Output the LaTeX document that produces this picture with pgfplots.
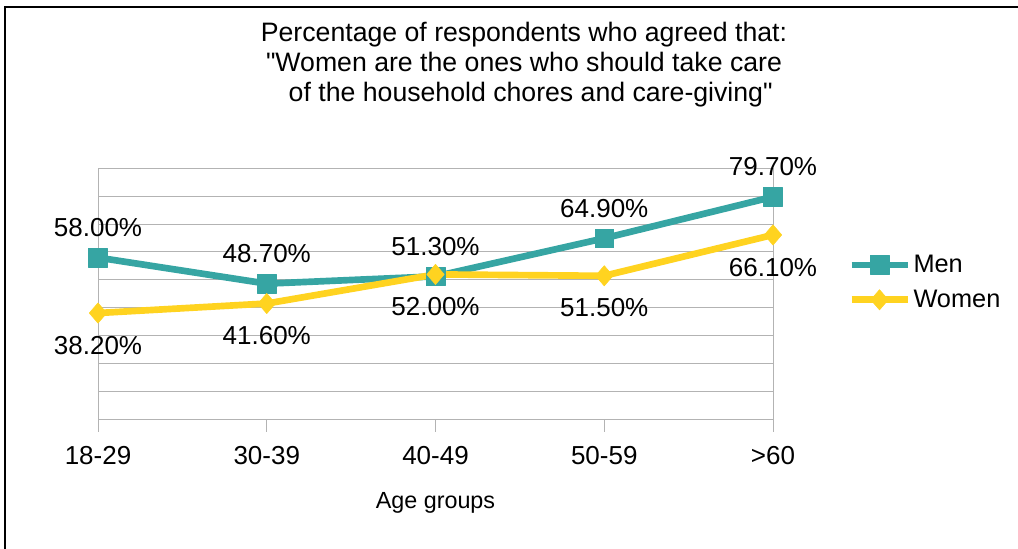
\documentclass[border=0pt]{standalone}
\usepackage{pgfplots}
\pgfplotsset{compat=1.18}
\usepackage{fontspec}
\setmainfont{Liberation Sans}[Ligatures=TeXOff]
\definecolor{menc}{RGB}{54,165,163}
\definecolor{womc}{RGB}{255,211,32}
\definecolor{gridc}{RGB}{179,179,179}
\begin{document}
\begin{tikzpicture}
\useasboundingbox (0,0) rectangle (763.5pt,411.75pt);
\draw[line width=1.5pt] (4.1pt,0pt) -- (4.1pt,406.5pt) -- (763.5pt,406.5pt);
\node[align=center, font=\fontsize{20}{22.5}\selectfont] at (393pt,363pt)
  {Percentage of respondents who agreed that:\\"Women are the ones who should take care\\\hspace*{0.5em}of the household chores and care-giving"};
\begin{axis}[
  at={(73.5pt,96.75pt)}, anchor=south west, scale only axis,
  width=506.25pt, height=189pt,
  xmin=0, xmax=4, ymin=0, ymax=90,
  xtick={0,1,2,3,4}, xticklabels={18-29,30-39,40-49,50-59,>60},
  ytick={0,10,...,90}, yticklabels={}, ymajorgrids,
  grid style={gridc, line width=0.75pt},
  axis line style={gridc, line width=0.75pt},
  xtick pos=bottom, ytick style={draw=none},
  xtick style={gridc, line width=0.75pt},
  tick align=outside, major tick length=9pt,
  ticklabel style={font=\fontsize{19.5}{22}\selectfont, text=black},
  xticklabel style={yshift=-7pt},
  xlabel={Age groups},
  xlabel style={at={(axis description cs:0.5,0)}, anchor=center, yshift=-62pt, font=\fontsize{17.5}{20}\selectfont},
  legend style={at={(1.111,0.546)}, anchor=west, draw=none, fill=none,
    font=\fontsize{19}{22}\selectfont, inner sep=0pt, row sep=7.5pt},
  legend cell align=left,
  legend image code/.code={\draw[mark repeat=2,mark phase=2,#1] plot coordinates {(0pt,0pt) (21pt,0pt) (42pt,0pt)};},
  every axis plot/.append style={line width=5pt, line join=round},
  /pgf/number format/assume math mode=true,
  clip=false,
]
\addplot[color=menc, mark=square*, mark size=7pt, mark options={solid, line width=0.4pt},
  nodes near coords={\pgfmathprintnumber[fixed,fixed zerofill,precision=2]{\pgfplotspointmeta}\%},
  nodes near coords style={anchor=south, inner sep=0pt, yshift=15.5pt, text=black, font=\fontsize{19.5}{22}\selectfont}]
  coordinates {(0,58.0) (1,48.7) (2,51.3) (3,64.9) (4,79.7)};
\addlegendentry{Men}
\addplot[color=womc, mark=diamond*, mark size=7.6pt, mark options={solid, line width=0.4pt, xscale=1.15},
  nodes near coords={\pgfmathprintnumber[fixed,fixed zerofill,precision=2]{\pgfplotspointmeta}\%},
  nodes near coords style={anchor=north, inner sep=0pt, yshift=-17pt, text=black, font=\fontsize{19.5}{22}\selectfont}]
  coordinates {(0,38.2) (1,41.6) (2,52.0) (3,51.5) (4,66.1)};
\addlegendentry{Women}
\end{axis}
\end{tikzpicture}
\end{document}
